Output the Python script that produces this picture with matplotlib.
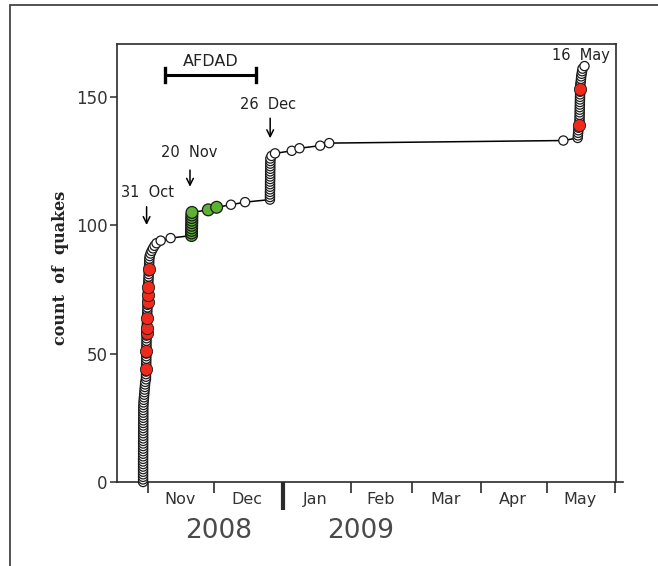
import matplotlib
matplotlib.use('Agg')
import matplotlib.pyplot as plt
import numpy as np
from matplotlib.patches import Rectangle

# -------------------------------------------------------------------------------------------------------------------- #
# Data (x = days since 1 Nov 2008, one entry per quake in time order)
# -------------------------------------------------------------------------------------------------------------------- #

# 31 Oct swarm
oct_days = [-2.3, -2.3, -2.3, -2.3, -2.3, -2.3, -2.3, -2.3, -2.3, -2.3,
            -2.28, -2.28, -2.28, -2.27, -2.27, -2.26, -2.26, -2.25, -2.25, -2.25,
            -2.24, -2.24, -2.23, -2.23, -2.22, -2.22, -2.21, -2.21, -2.2, -2.2,
            -2.15, -2.1, -2.0, -1.9, -1.8, -1.7, -1.6, -1.5, -1.4, -1.3,
            -1.0, -0.98, -0.96, -0.94, -0.92, -0.9, -0.88, -0.86, -0.84, -0.82,
            -0.8, -0.79, -0.78, -0.77, -0.76, -0.75, -0.74, -0.73, -0.72, -0.7,
            -0.65, -0.6, -0.56, -0.52, -0.48, -0.44, -0.4, -0.36, -0.32, -0.28,
            -0.24, -0.2, -0.17, -0.14, -0.12, -0.1,
            0.0, 0.05, 0.1, 0.15, 0.2, 0.25, 0.3, 0.35, 0.4, 0.45, 0.5, 0.55,
            0.7, 1.1, 1.6, 2.2, 2.9, 3.8, 5.7, 10.2]
# 20 Nov swarm and following events
nov_days = [19.7, 19.7, 19.7, 19.75, 19.75, 19.8, 19.8, 19.8, 19.85, 19.9,
            27.3, 31.1, 37.6, 44.0]
# 26 Dec swarm and January events
dec_days = [55.3, 55.3, 55.3, 55.3, 55.35, 55.35, 55.35, 55.35, 55.4, 55.4,
            55.4, 55.4, 55.45, 55.45, 55.45, 55.5, 55.5, 56.0, 57.6,
            65.2, 68.7, 78.1, 82.2, 188.5]
# 16 May swarm
may_days = [195.0, 195.1, 195.2, 195.3, 195.4,
            195.8, 195.8, 195.85, 195.85, 195.9, 195.9, 195.95, 195.95, 196.0,
            196.0, 196.05, 196.05, 196.1, 196.1, 196.15, 196.15, 196.2,
            196.4, 196.5, 196.6, 196.8, 197.0, 197.2, 198.1]

red_counts = [44, 51, 58, 60, 64, 70, 73, 76, 83, 139, 153]
green_counts = list(range(96, 108))

month_ticks = [0, 30, 61, 92, 120, 151, 181, 212]
month_mid = [14.5, 45, 76, 105.5, 135, 165.5, 196]
month_labels = ['Nov', 'Dec', 'Jan', 'Feb', 'Mar', 'Apr', 'May']

# -------------------------------------------------------------------------------------------------------------------- #
# Main
# -------------------------------------------------------------------------------------------------------------------- #

days = np.array(oct_days + nov_days + dec_days + may_days)
counts = np.arange(len(days))

fig = plt.figure(figsize=(6.58, 5.66), dpi=100)
ax = fig.add_axes([117.3 / 658, 1 - 482 / 566, (616 - 117.3) / 658, (482 - 44) / 566])

ink = '#2b2b2b'
ax.plot(days, counts, color='black', lw=1.1, zorder=2, clip_on=False)

face = ['white'] * len(days)
for c in green_counts:
    face[c] = '#5db233'
size = [44 if f == 'white' else 72 for f in face]
ax.scatter(days, counts, s=size, facecolors=face, edgecolors='#1a1a1a', linewidths=0.9,
           zorder=3, clip_on=False)
ax.scatter(days[red_counts], counts[red_counts], s=78, facecolors='#ee2a1c',
           edgecolors='#1a1a1a', linewidths=0.6, zorder=4, clip_on=False)

ax.set_xlim(-14, 212.4)
ax.set_ylim(0, 170.6)

# Axes styling
for side in ['left', 'right', 'top', 'bottom']:
    ax.spines[side].set_color(ink)
    ax.spines[side].set_linewidth(1.2)
ax.spines['bottom'].set_bounds(-14, 215.5)

ax.set_yticks([0, 50, 100, 150])
ax.tick_params(axis='y', direction='out', length=5, width=1.1, color=ink,
               labelsize=12, labelcolor='#333333', pad=2)
ax.set_xticks(month_ticks)
ax.set_xticklabels([])
ax.set_xticks(month_mid, minor=True)
ax.set_xticklabels(month_labels, minor=True)
ax.tick_params(axis='x', which='major', direction='out', length=8, width=1.2, color=ink)
ax.tick_params(axis='x', which='minor', length=0, labelsize=11.5, labelcolor='#333333', pad=7)
jan = ax.xaxis.get_major_ticks()[2]
jan.tick1line.set_markersize(20)
jan.tick1line.set_markeredgewidth(3)
jan.tick1line.set_color('black')

ax.set_ylabel('count  of  quakes', family='DejaVu Serif', fontweight='bold', fontsize=11.5, color='#222222')
ax.yaxis.set_label_coords(-0.097, 0.49)

# Years
trans = ax.get_xaxis_transform()
ax.text(31.8, -0.112, '2008', transform=trans, ha='center', va='center', fontsize=19, color='#4a4a4a')
ax.text(96.3, -0.112, '2009', transform=trans, ha='center', va='center', fontsize=19, color='#4a4a4a')

# Annotations
arrow = dict(arrowstyle='->', color='black', lw=1.1, shrinkA=0, shrinkB=0, mutation_scale=12)
ax.text(-0.5, 112.7, '31  Oct', ha='center', va='center', fontsize=10.5, color='#222222')
ax.annotate('', xy=(-0.7, 100.1), xytext=(-0.7, 107.2), arrowprops=arrow)
ax.text(18.5, 128.2, '20  Nov', ha='center', va='center', fontsize=10.5, color='#222222')
ax.annotate('', xy=(19, 115), xytext=(19, 121.5), arrowprops=arrow)
ax.text(54.5, 146.9, '26  Dec', ha='center', va='center', fontsize=10.5, color='#222222')
ax.annotate('', xy=(55.4, 133.9), xytext=(55.4, 141.7), arrowprops=arrow)
ax.text(196.7, 166.3, '16  May', ha='center', va='center', fontsize=10.5, color='#222222')

# AFDAD bar
ax.text(28.6, 163.7, 'AFDAD', ha='center', va='center', fontsize=11.5, color='#222222')
ax.plot([7.6, 49], [158.5, 158.5], color='black', lw=2.2)
ax.plot([7.6, 7.6], [155.7, 161.3], color='black', lw=2.4)
ax.plot([49, 49], [155.7, 161.3], color='black', lw=2.4)

# Outer frame
fig.add_artist(Rectangle((10 / 658, -0.1), 1.0, 1.1 - 5 / 566, transform=fig.transFigure,
                         fill=False, edgecolor='#444444', lw=1.3))

fig.savefig('out.png', dpi=100)
